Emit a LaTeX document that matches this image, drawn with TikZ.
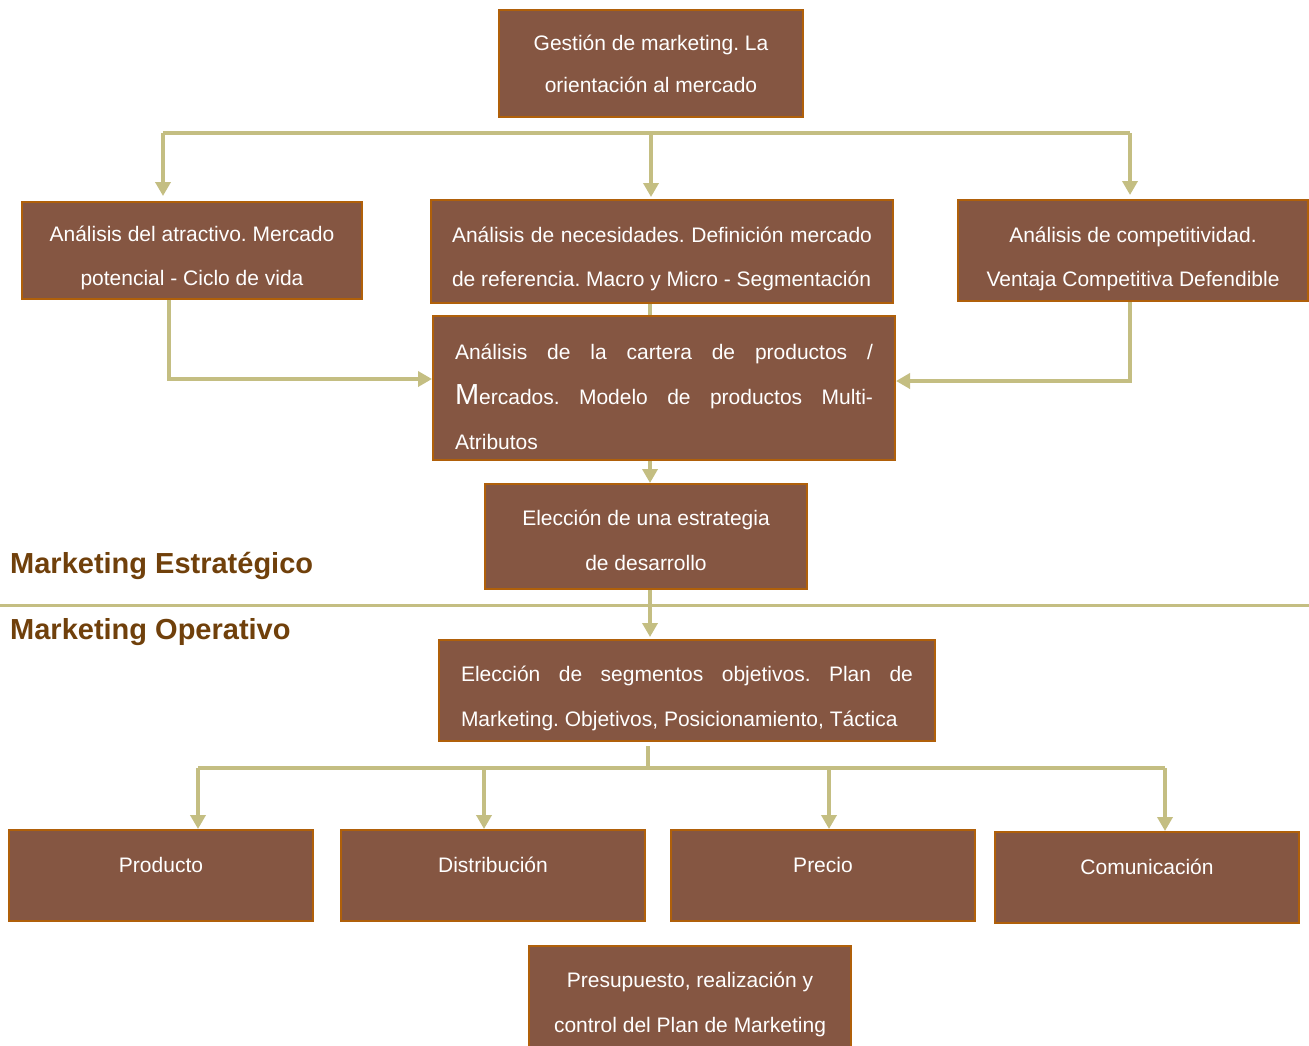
\documentclass[tikz,border=0pt]{standalone}
\usepackage{fontspec}
\setmainfont{Liberation Sans}
\usetikzlibrary{arrows.meta}
\definecolor{boxfill}{HTML}{855642}
\definecolor{boxedge}{HTML}{B0600A}
\definecolor{linkcol}{HTML}{C4BE82}
\definecolor{headcol}{HTML}{70400B}
\frenchspacing
% invisible strut that pushes the first text line down inside a box
\newcommand\firstgap[1]{\rule{0pt}{#1pt}}

\begin{document}
\begin{tikzpicture}[x=1pt,y=-1pt,
  box/.style={draw=boxedge, fill=boxfill, line width=2pt, text=white,
    font=\fontsize{21}{44}\selectfont\frenchspacing, inner sep=0pt, anchor=north west},
  cbox/.style={box, align=center},
  jbox/.style={box, align=justify, inner xsep=#1},
  sbox/.style={box, text height=16pt, text depth=23pt},
  link/.style={draw=linkcol, line width=3.5pt},
  arrow/.style={link, -{Triangle[width=15pt,length=14pt]}},
  head/.style={text=headcol, font=\fontsize{29}{34}\selectfont\bfseries,
    inner sep=0pt, anchor=base west}]

% page
\fill[white] (0,0) rectangle (1309,1045);
\useasboundingbox (0,0) rectangle (1309,1045);
\clip (0,0) rectangle (1309,1045);

% strategic level
\node[cbox, minimum width=304pt, minimum height=107pt, font=\fontsize{21}{42}\selectfont] (gest) at (498,9)
  {Gestión de marketing. La\\orientación al mercado};
\node[cbox, minimum width=340pt, minimum height=97pt] (atr) at (21,201)
  {\firstgap{30}Análisis del atractivo. Mercado\\potencial - Ciclo de vida};
\node[jbox=21pt, text width=420pt, minimum width=461pt, minimum height=103pt] (nec) at (430,199)
  {\hyphenpenalty=10000 \firstgap{31}Análisis de necesidades. Definición mercado\linebreak de referencia. Macro y Micro - Segmentación};
\node[cbox, minimum width=350pt, minimum height=101pt] (comp) at (957,199)
  {\firstgap{31.5}Análisis de competitividad.\\Ventaja Competitiva Defendible};
\node[jbox=22pt, text width=418pt, minimum width=462pt, minimum height=144pt,
  font=\fontsize{21}{45}\selectfont] (cart) at (432,315)
  {\hyphenpenalty=10000 \firstgap{32.5}Análisis de la cartera de productos /\linebreak {\fontsize{29}{45}\selectfont M}ercados. Modelo de productos Multi-\linebreak Atributos};
\node[cbox, minimum width=322pt, minimum height=105pt, font=\fontsize{21}{45}\selectfont] (estr) at (484,483)
  {\firstgap{22.5}Elección de una estrategia\\de desarrollo};

% operative level
\node[jbox=22pt, text width=452pt, minimum width=496pt, minimum height=101pt, font=\fontsize{21}{45}\selectfont] (seg) at (438,639)
  {\hyphenpenalty=10000 \firstgap{30.5}Elección de segmentos objetivos. Plan de\linebreak Marketing. Objetivos, Posicionamiento, Táctica};
\node[sbox, minimum width=304pt, minimum height=91pt] (prod) at (8,829) {Producto};
\node[sbox, minimum width=304pt, minimum height=91pt] (dist) at (340,829) {Distribución};
\node[sbox, minimum width=304pt, minimum height=91pt] (prec) at (670,829) {Precio};
\node[sbox, minimum width=304pt, minimum height=91pt] (comu) at (994,831) {Comunicación};
\node[cbox, minimum width=322pt, minimum height=107pt, font=\fontsize{21}{45}\selectfont] (pres) at (528,945)
  {\firstgap{24.5}Presupuesto, realización y\\control del Plan de Marketing};

% level titles
\node[head] (estrat) at (10,573) {Marketing Estratégico};
\node[head] (opera) at (10,639) {Marketing Operativo};

% fan-out from the top
\coordinate (ta) at (163,133);
\coordinate (tb) at (651,133);
\coordinate (tc) at (1130,133);
\draw[link] (ta) -- (tc);
\draw[arrow, shorten >=5pt] (ta) -- (ta |- atr.north);
\draw[arrow, shorten >=2pt] (tb) -- (tb |- nec.north);
\draw[arrow, shorten >=4pt] (tc) -- (tc |- comp.north);

% side inputs to the portfolio box
\coordinate (la) at (169,379);
\coordinate (ra) at (1130,381);
\draw[arrow] (la |- atr.south) -- (la) -- (la -| cart.west);
\draw[arrow] (ra |- comp.south) -- (ra) -- (ra -| cart.east);

% central chain
\coordinate (mx) at (650,0);
\draw[link] (nec.south -| mx) -- (cart.north -| mx);
\draw[arrow] (cart.south -| mx) -- (estr.north -| mx);
\draw[arrow, shorten >=2pt] (estr.south -| mx) -- (seg.north -| mx);

% divider between the two levels
\coordinate (sepl) at (0,605);
\coordinate (sepr) at (1309,605);
\draw[link, line width=3pt] (sepl) -- (sepr);

% fan-out to the marketing mix
\coordinate (bm) at (648,768);
\coordinate (b1) at (198,768);
\coordinate (b2) at (484,768);
\coordinate (b3) at (829,768);
\coordinate (b4) at (1165,768);
\draw[link, shorten <=4pt] (seg.south -| bm) -- (bm);
\draw[link] (b1) -- (b4);
\draw[arrow] (b1) -- (b1 |- prod.north);
\draw[arrow] (b2) -- (b2 |- dist.north);
\draw[arrow] (b3) -- (b3 |- prec.north);
\draw[arrow] (b4) -- (b4 |- comu.north);
\end{tikzpicture}
\end{document}
